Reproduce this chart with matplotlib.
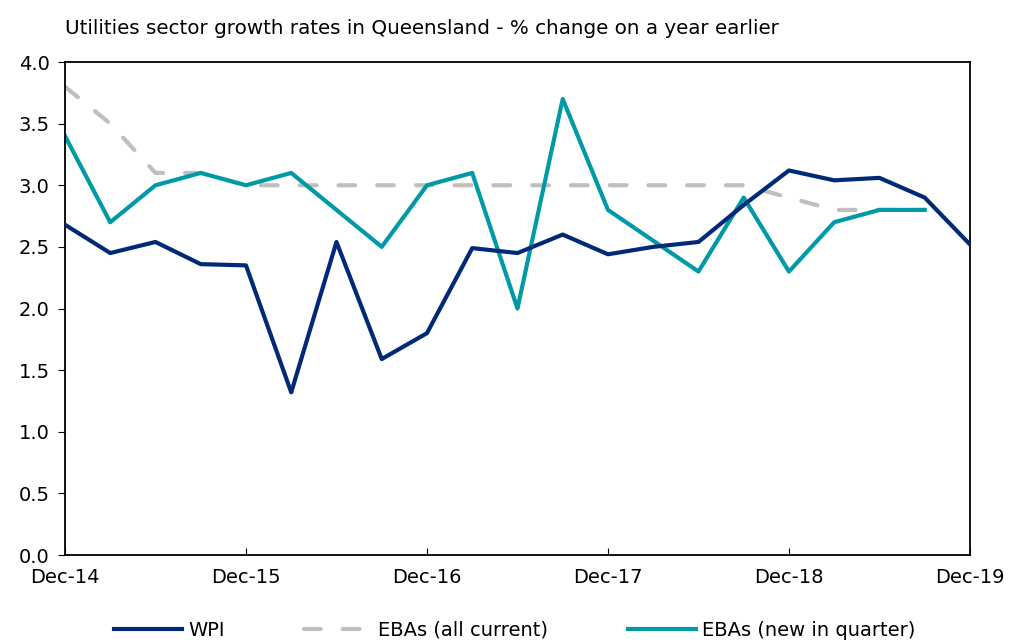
import numpy as np
import matplotlib.pyplot as plt

# quarterly, Dec-14 .. Dec-19
quarters = np.arange(21)
tick_pos = [0, 4, 8, 12, 16, 20]
tick_labels = ['Dec-14', 'Dec-15', 'Dec-16', 'Dec-17', 'Dec-18', 'Dec-19']

wpi = [2.68, 2.45, 2.54, 2.36, 2.35, 1.32, 2.54, 1.59, 1.80, 2.49,
       2.45, 2.60, 2.44, 2.50, 2.54, 2.84, 3.12, 3.04, 3.06, 2.90, 2.52]
eba_all = [3.8, 3.5, 3.1, 3.1, 3.0, 3.0, 3.0, 3.0, 3.0, 3.0,
           3.0, 3.0, 3.0, 3.0, 3.0, 3.0, 2.9, 2.8, 2.8, 2.8]
eba_new = [3.4, 2.7, 3.0, 3.1, 3.0, 3.1, 2.8, 2.5, 3.0, 3.1,
           2.0, 3.7, 2.8, 2.55, 2.3, 2.9, 2.3, 2.7, 2.8, 2.8]

plt.rcParams['font.family'] = 'DejaVu Sans'

fig = plt.figure(figsize=(10.09, 6.42), dpi=100)
ax = fig.add_axes([0.0644, 0.1355, 0.8969, 0.7679])

ax.plot(quarters, wpi, color='#002A78', lw=3, label='WPI', zorder=3)
ax.plot(quarters[:len(eba_all)], eba_all, color='#BFBFBF', lw=3,
        ls=(0, (4, 5.3)), dash_capstyle='round', label='EBAs (all current)', zorder=1)
ax.plot(quarters[:len(eba_new)], eba_new, color='#009AA6', lw=3,
        label='EBAs (new in quarter)', zorder=2)

ax.set_xlim(0, 20)
ax.set_ylim(0, 4)
ax.set_xticks(tick_pos)
ax.set_xticklabels(tick_labels)
ax.set_yticks(np.arange(0, 4.01, 0.5))
ax.set_yticklabels(['%.1f' % v for v in np.arange(0, 4.01, 0.5)])
ax.tick_params(axis='x', direction='in', length=5, pad=9, labelsize=14)
ax.tick_params(axis='y', direction='out', length=5, pad=6, labelsize=14)
for s in ax.spines.values():
    s.set_linewidth(1.3)

fig.text(0.064, 0.955, 'Utilities sector growth rates in Queensland - % change on a year earlier',
         fontsize=14.3, ha='left', va='center')

ax.legend(loc='upper center', bbox_to_anchor=(0.497, -0.098), ncol=3, frameon=False,
          fontsize=14, handlelength=3.5, columnspacing=4.1, handletextpad=0.3)

fig.savefig('out.png', dpi=100)
